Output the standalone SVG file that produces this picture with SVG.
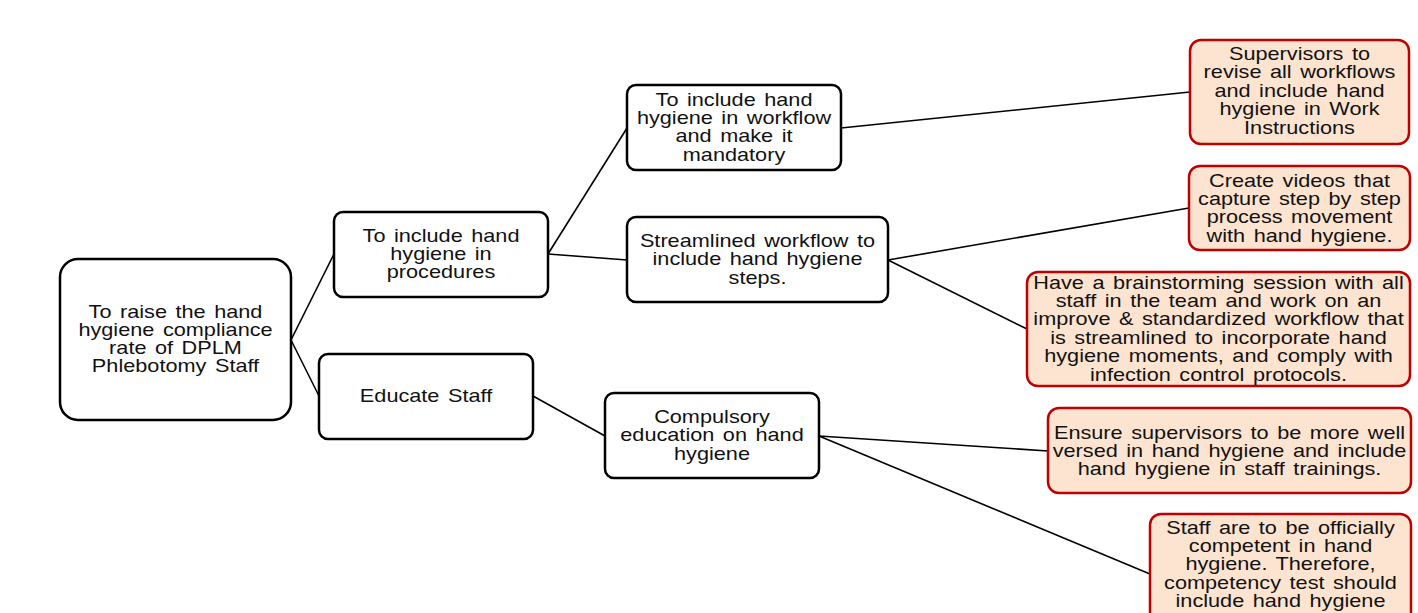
<svg xmlns="http://www.w3.org/2000/svg" width="1418" height="613" viewBox="0 0 1418 613">
<style>
.n rect{fill:#fff;stroke:#000;stroke-width:2.5}
.o rect{fill:#FCE4D0;stroke:#C00000;stroke-width:2.5}
text{font-family:"Liberation Sans",Arial,sans-serif;font-size:17.5px;fill:#111;text-anchor:middle;word-spacing:2px}
.c line{stroke:#000;stroke-width:1.6}
</style>
<rect width="1418" height="613" fill="#fff"/>
<g class="c" id="connectors">
<line x1="291" y1="340" x2="334" y2="254"/>
<line x1="291" y1="340" x2="319" y2="396"/>
<line x1="548" y1="254" x2="627" y2="128"/>
<line x1="548" y1="254" x2="627" y2="260"/>
<line x1="533" y1="396" x2="605" y2="436"/>
<line x1="841" y1="128" x2="1190" y2="92"/>
<line x1="888" y1="260" x2="1189" y2="208"/>
<line x1="888" y1="260" x2="1027" y2="329"/>
<line x1="819" y1="436" x2="1048" y2="451"/>
<line x1="819" y1="436" x2="1150" y2="574"/>
</g>
<g id="root" class="n">
<rect x="60" y="259" width="231" height="161" rx="18"/>
<g transform="translate(175.5 0) scale(1.24 1)">
<text x="0" y="318">To raise the hand</text>
<text x="0" y="336">hygiene compliance</text>
<text x="0" y="354">rate of DPLM</text>
<text x="0" y="372.5">Phlebotomy Staff</text>
</g>
</g>
<g id="procedures" class="n">
<rect x="334" y="212" width="214" height="85" rx="9"/>
<g transform="translate(441 0) scale(1.24 1)">
<text x="0" y="242">To include hand</text>
<text x="0" y="260">hygiene in</text>
<text x="0" y="278">procedures</text>
</g>
</g>
<g id="educate" class="n">
<rect x="319" y="354" width="214" height="85" rx="9"/>
<g transform="translate(426 0) scale(1.24 1)">
<text x="0" y="402">Educate Staff</text>
</g>
</g>
<g id="workflow" class="n">
<rect x="627" y="85" width="214" height="85" rx="9"/>
<g transform="translate(734 0) scale(1.24 1)">
<text x="0" y="106">To include hand</text>
<text x="0" y="124">hygiene in workflow</text>
<text x="0" y="142.5">and make it</text>
<text x="0" y="161">mandatory</text>
</g>
</g>
<g id="streamlined" class="n">
<rect x="627" y="217" width="261" height="85" rx="9"/>
<g transform="translate(757.5 0) scale(1.24 1)">
<text x="0" y="247">Streamlined workflow to</text>
<text x="0" y="265.5">include hand hygiene</text>
<text x="0" y="284">steps.</text>
</g>
</g>
<g id="compulsory" class="n">
<rect x="605" y="393" width="214" height="85" rx="9"/>
<g transform="translate(712 0) scale(1.24 1)">
<text x="0" y="423">Compulsory</text>
<text x="0" y="441.5">education on hand</text>
<text x="0" y="460">hygiene</text>
</g>
</g>
<g id="supervisors" class="o">
<rect x="1190" y="40" width="219" height="104" rx="11"/>
<g transform="translate(1299.5 0) scale(1.24 1)">
<text x="0" y="60">Supervisors to</text>
<text x="0" y="78.5">revise all workflows</text>
<text x="0" y="97">and include hand</text>
<text x="0" y="115.5">hygiene in Work</text>
<text x="0" y="134">Instructions</text>
</g>
</g>
<g id="videos" class="o">
<rect x="1189" y="166" width="221" height="84" rx="11"/>
<g transform="translate(1299.5 0) scale(1.24 1)">
<text x="0" y="187">Create videos that</text>
<text x="0" y="205">capture step by step</text>
<text x="0" y="223">process movement</text>
<text x="0" y="242">with hand hygiene.</text>
</g>
</g>
<g id="brainstorm" class="o">
<rect x="1027" y="272" width="383" height="114" rx="11"/>
<g transform="translate(1218.5 0) scale(1.24 1)">
<text x="0" y="289">Have a brainstorming session with all</text>
<text x="0" y="307">staff in the team and work on an</text>
<text x="0" y="325.5">improve &amp; standardized workflow that</text>
<text x="0" y="344">is streamlined to incorporate hand</text>
<text x="0" y="362">hygiene moments, and comply with</text>
<text x="0" y="381">infection control protocols.</text>
</g>
</g>
<g id="ensure" class="o">
<rect x="1048" y="408" width="363" height="85" rx="11"/>
<g transform="translate(1229.5 0) scale(1.24 1)">
<text x="0" y="439">Ensure supervisors to be more well</text>
<text x="0" y="457">versed in hand hygiene and include</text>
<text x="0" y="475">hand hygiene in staff trainings.</text>
</g>
</g>
<g id="competent" class="o">
<rect x="1150" y="514" width="261" height="130" rx="11"/>
<g transform="translate(1280.5 0) scale(1.24 1)">
<text x="0" y="534">Staff are to be officially</text>
<text x="0" y="552">competent in hand</text>
<text x="0" y="570">hygiene. Therefore,</text>
<text x="0" y="589">competency test should</text>
<text x="0" y="607">include hand hygiene</text>
</g>
</g>
</svg>
